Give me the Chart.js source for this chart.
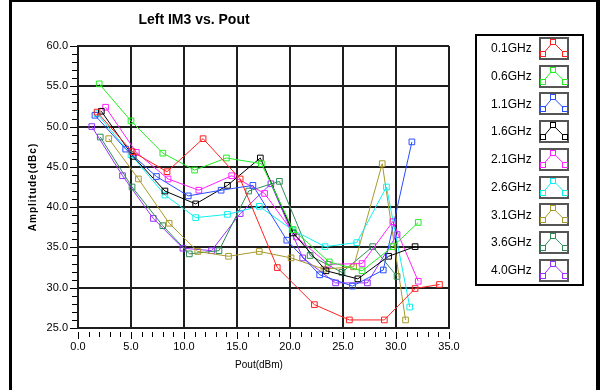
<!DOCTYPE html>
<html>
<head>
<meta charset="utf-8">
<title>Left IM3 vs. Pout</title>
<script src="https://cdn.jsdelivr.net/npm/chart.js@4.4.1/dist/chart.umd.min.js"></script>
<style>
    html, body { margin: 0; padding: 0; background: #fff; }
    #wrap { position: relative; width: 604px; height: 390px; }
    #frame {
        position: absolute; left: 9px; top: 0; width: 591px; height: 390px;
        border-left: 3px solid #000; border-top: 2px solid #000; border-right: 4px solid #000;
        box-sizing: border-box; pointer-events: none;
    }
    canvas { position: absolute; left: 0; top: 0; }
</style>
</head>
<body>
<div id="wrap">
    <canvas id="im3-chart" width="604" height="390"></canvas>
    <div id="frame"></div>
</div>
<script>
// Series names (legend) and tick values
const freqLabels = ["0.1GHz", "0.6GHz", "1.1GHz", "1.6GHz", "2.1GHz", "2.6GHz", "3.1GHz", "3.6GHz", "4.0GHz"];
const xTicks = [0, 5, 10, 15, 20, 25, 30, 35];
const yTicks = [25, 30, 35, 40, 45, 50, 55, 60];

// Pout (dBm) / left IM3 (dBc) per frequency
const pout01 = [1.8, 5.1, 8.4, 11.8, 15.3, 18.8, 22.3, 25.6, 28.9, 31.8, 34.1];
const im3_01 = [51.8, 46.9, 44.4, 48.5, 43.5, 32.5, 27.9, 26.0, 26.0, 29.9, 30.4];
const pout06 = [2.0, 5.0, 8.0, 11.0, 14.0, 17.3, 20.3, 23.7, 26.8, 29.7, 32.1];
const im3_06 = [55.3, 50.7, 46.7, 44.6, 46.1, 45.4, 37.2, 33.2, 32.1, 35.1, 38.1];
const pout11 = [1.6, 4.5, 7.4, 10.4, 13.5, 16.5, 19.7, 22.8, 25.9, 28.8, 31.5];
const im3_11 = [51.4, 47.2, 43.8, 41.4, 42.1, 42.7, 35.9, 31.6, 30.2, 32.2, 48.1];
const pout16 = [2.2, 5.2, 8.2, 11.1, 14.1, 17.2, 20.3, 23.4, 26.4, 29.3, 31.8];
const im3_16 = [51.9, 46.3, 42.0, 40.4, 42.7, 46.1, 36.8, 32.1, 31.1, 33.9, 35.1];
const pout21 = [2.6, 5.5, 8.5, 11.4, 14.5, 17.6, 20.6, 23.6, 26.8, 29.7, 32.1];
const im3_21 = [52.4, 46.8, 43.5, 42.1, 43.9, 41.7, 36.3, 32.9, 33.0, 38.2, 30.8];
const pout26 = [1.8, 5.0, 8.2, 11.1, 14.1, 17.1, 20.2, 23.3, 26.3, 29.1, 31.3];
const im3_26 = [51.6, 46.5, 41.5, 38.7, 39.1, 40.1, 37.2, 35.1, 35.6, 42.5, 27.6];
const pout31 = [2.9, 5.7, 8.6, 11.3, 14.2, 17.1, 20.1, 23.2, 26.0, 28.7, 30.9];
const im3_31 = [48.5, 43.5, 38.0, 34.5, 33.9, 34.5, 33.7, 32.3, 32.6, 45.4, 26.0];
const pout36 = [2.1, 5.1, 8.0, 10.5, 13.3, 16.1, 19.0, 21.9, 24.9, 27.8, 30.1];
const im3_36 = [48.7, 42.5, 37.7, 34.2, 34.6, 42.0, 43.2, 34.0, 31.9, 35.1, 31.4];
const pout40 = [1.3, 4.2, 7.1, 9.9, 12.6, 15.3, 18.2, 21.2, 24.3, 27.3, 30.1];
const im3_40 = [50.0, 43.9, 38.6, 34.9, 34.6, 39.2, 42.9, 33.7, 30.6, 30.6, 36.6];

const seriesX = [pout01, pout06, pout11, pout16, pout21, pout26, pout31, pout36, pout40];
const seriesY = [im3_01, im3_06, im3_11, im3_16, im3_21, im3_26, im3_31, im3_36, im3_40];
const seriesColors = ["#ff2020", "#22ee22", "#2a4cff", "#000000", "#ff22ff", "#11f0f0", "#a89a2a", "#2e8b57", "#9a30ff"];

const FONT = '"Liberation Sans", Arial, sans-serif';

// Title, axis titles and the minor tick marks
const decorations = {
    id: "decorations",
    afterDraw(chart) {
        const {ctx, chartArea, scales: {x, y}} = chart;
        ctx.save();
        ctx.fillStyle = "#000";
        ctx.textAlign = "center";
        ctx.textBaseline = "middle";
        ctx.font = "bold 14px " + FONT;
        ctx.fillText("Left IM3 vs. Pout", 194, 20);
        ctx.font = "10px " + FONT;
        ctx.fillText("Pout(dBm)", 259, 365);
        ctx.save();
        ctx.translate(33, 187);
        ctx.rotate(-Math.PI / 2);
        ctx.font = "bold 10px " + FONT;
        ctx.letterSpacing = "1px";
        ctx.fillText("Amplitude(dBc)", 0, 0);
        ctx.restore();

        ctx.strokeStyle = "#000";
        ctx.lineWidth = 1;
        for (let v = y.min; v <= y.max; v++) {
            const py = Math.round(y.getPixelForValue(v)) + 0.5;
            const len = v % 5 === 0 ? 7 : 5;
            ctx.beginPath();
            ctx.moveTo(chartArea.left - 1 - len, py);
            ctx.lineTo(chartArea.left - 1, py);
            ctx.stroke();
        }
        for (let v = x.min; v <= x.max; v++) {
            const px = Math.round(x.getPixelForValue(v)) + 0.5;
            const len = v % 5 === 0 ? 7 : 5;
            ctx.beginPath();
            ctx.moveTo(px, chartArea.bottom + 4);
            ctx.lineTo(px, chartArea.bottom + 4 + len);
            ctx.stroke();
        }
        ctx.restore();
    }
};

// Legend box on the right: name then a little sample of the line
const legendBox = {
    id: "legendBox",
    afterDraw(chart) {
        const ctx = chart.ctx;
        ctx.save();
        ctx.lineWidth = 2;
        ctx.strokeStyle = "#000";
        ctx.strokeRect(476, 35, 107, 250);
        chart.data.datasets.forEach((ds, i) => {
            const cy = 49 + i * 27.7;
            ctx.fillStyle = "#000";
            ctx.font = "12px " + FONT;
            ctx.textAlign = "left";
            ctx.textBaseline = "middle";
            ctx.fillText(ds.label, 491, cy);

            ctx.lineWidth = 2;
            ctx.strokeStyle = "#555";
            ctx.strokeRect(540, Math.round(cy) - 11, 28, 21);

            const pts = [[543, cy + 5], [553, cy - 7], [565, cy + 5]];
            ctx.strokeStyle = ds.borderColor;
            ctx.lineWidth = 1;
            ctx.beginPath();
            ctx.moveTo(pts[0][0], pts[0][1]);
            ctx.lineTo(pts[1][0], pts[1][1]);
            ctx.lineTo(pts[2][0], pts[2][1]);
            ctx.stroke();
            pts.forEach(([px, py]) => {
                ctx.fillStyle = "#fff";
                ctx.fillRect(px - 2, py - 2, 4, 4);
                ctx.strokeRect(Math.round(px) - 2.5, Math.round(py) - 2.5, 5, 5);
            });
        });
        ctx.restore();
    }
};

const datasets = freqLabels.map((label, i) => ({
    label: label,
    data: seriesX[i].map((xv, j) => ({x: xv, y: seriesY[i][j]})),
    borderColor: seriesColors[i],
    backgroundColor: seriesColors[i],
    borderWidth: 1,
    tension: 0,
    fill: false,
    pointStyle: "rect",
    pointRadius: 4,
    pointBorderWidth: 1,
    pointBackgroundColor: "rgba(255,255,255,0)"
}));

const gridColor = "#1e1e1e";

new Chart(document.getElementById("im3-chart"), {
    type: "line",
    data: {datasets: datasets},
    options: {
        responsive: false,
        animation: false,
        layout: {padding: {left: 10, top: 46, right: 155, bottom: 22}},
        plugins: {legend: {display: false}, tooltip: {enabled: false}},
        scales: {
            x: {
                type: "linear",
                min: xTicks[0],
                max: xTicks[xTicks.length - 1],
                afterFit: scale => { scale.height = 40; },
                afterBuildTicks: scale => { scale.ticks = xTicks.map(v => ({value: v})); },
                ticks: {
                    padding: 12,
                    color: "#000",
                    font: {family: FONT, size: 11},
                    callback: v => v.toFixed(1)
                },
                grid: {color: gridColor, lineWidth: 2, drawTicks: false},
                border: {color: gridColor, width: 2}
            },
            y: {
                type: "linear",
                min: yTicks[0],
                max: yTicks[yTicks.length - 1],
                afterFit: scale => { scale.width = 68; },
                afterBuildTicks: scale => { scale.ticks = yTicks.map(v => ({value: v})); },
                ticks: {
                    padding: 10,
                    color: "#000",
                    font: {family: FONT, size: 11},
                    callback: v => v.toFixed(1)
                },
                grid: {color: gridColor, lineWidth: 2, drawTicks: false},
                border: {color: gridColor, width: 2}
            }
        }
    },
    plugins: [decorations, legendBox]
});
</script>
</body>
</html>
